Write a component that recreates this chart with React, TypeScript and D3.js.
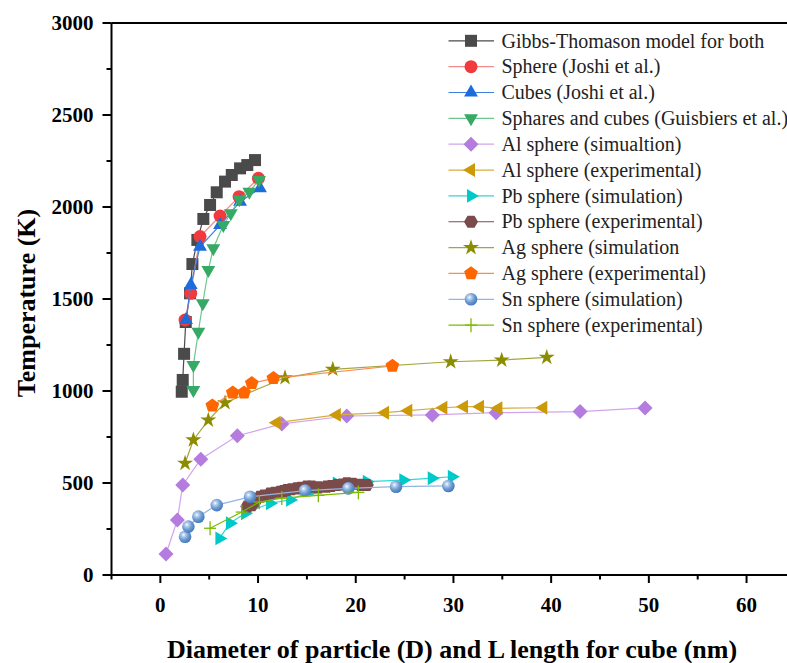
import React from "react";
import * as d3 from "d3";

const xTicks = [0, 10, 20, 30, 40, 50, 60];
const xMinorTicks = [-5, 5, 15, 25, 35, 45, 55, 65];
const yTicks = [0, 500, 1000, 1500, 2000, 2500, 3000];
const yMinorTicks = [250, 750, 1250, 1750, 2250, 2750];

const gibbs = [[2.19, 996], [2.29, 1060], [2.43, 1202], [2.6, 1375], [3.04, 1531], [3.28, 1690], [3.79, 1821], [4.4, 1935], [5.09, 2011], [5.77, 2080], [6.62, 2138], [7.31, 2174], [8.16, 2210], [8.9, 2228], [9.69, 2255]];
const sphereJoshi = [[2.53, 1386], [3.11, 1531], [4.06, 1839], [6.11, 1951], [8.06, 2056], [10.04, 2156]];
const cubesJoshi = [[2.63, 1386], [3.11, 1576], [4.06, 1784], [6.11, 1902], [8.16, 2029], [10.2, 2102]];
const guisbiers = [[3.38, 1005], [3.38, 1141], [3.89, 1322], [4.34, 1477], [4.91, 1658], [5.42, 1776], [6.45, 1902], [7.21, 1966], [8.09, 2042], [9.11, 2083], [10.1, 2147]];
const alSim = [[0.58, 114], [1.74, 299], [2.29, 489], [4.14, 629], [7.88, 757], [12.43, 821], [19.08, 864], [27.84, 870], [34.36, 882], [42.96, 888], [49.61, 908]];
const alExp = [[11.91, 828], [18.06, 870], [23.0, 882], [25.38, 893], [28.97, 909], [31.08, 915], [32.72, 915], [34.6, 906], [39.2, 909]];
const pbSim = [[6.04, 199], [7.13, 281], [8.67, 335], [11.23, 390], [13.28, 408], [15.66, 462], [18.06, 498], [21.13, 507], [24.87, 516], [27.78, 526], [29.83, 534]];
const pbExp = [[8.9, 372], [9.36, 380], [9.7, 400], [10.2, 425], [10.6, 432], [11.23, 443], [11.7, 447], [12.25, 452], [12.6, 456], [12.94, 462], [13.4, 466], [13.96, 471], [14.4, 474], [14.98, 480], [15.5, 480], [16.2, 476], [17.03, 480], [17.5, 484], [18.06, 489], [18.6, 492], [19.08, 498], [19.7, 496], [20.5, 490], [21.13, 489]];
const agSim = [[2.53, 607], [3.38, 734], [4.91, 842], [6.62, 936], [12.76, 1072], [17.65, 1118], [29.72, 1159], [34.94, 1168], [39.55, 1183]];
const agExp = [[5.32, 920], [7.41, 991], [8.57, 991], [9.36, 1042], [11.57, 1069], [23.75, 1136]];
const snSim = [[2.53, 208], [2.87, 263], [3.89, 317], [5.77, 380], [9.18, 425], [14.81, 459], [19.24, 471], [24.12, 480], [29.48, 484]];
const snExp = [[5.09, 254], [8.33, 342], [10.13, 397], [12.43, 418], [16.17, 433], [20.27, 449]];

const seriesNames = [
  "Gibbs-Thomason model for both",
  "Sphere (Joshi et al.)",
  "Cubes (Joshi et al.)",
  "Sphares and cubes (Guisbiers et al.)",
  "Al sphere (simualtion)",
  "Al sphere (experimental)",
  "Pb sphere (simulation)",
  "Pb sphere (experimental)",
  "Ag sphere (simulation",
  "Ag sphere (experimental)",
  "Sn sphere (simulation)",
  "Sn sphere (experimental)",
];

type Shape = "square" | "circle" | "up" | "down" | "diamond" | "left" | "right" | "hexagon" | "star" | "pentagon" | "sphere" | "plus";

const series: { name: string; data: number[][]; shape: Shape; fill: string; line: string }[] = [
  { name: seriesNames[0], data: gibbs, shape: "square", fill: "#4a4a4a", line: "#4a4a4a" },
  { name: seriesNames[1], data: sphereJoshi, shape: "circle", fill: "#f03a3e", line: "#f48a8a" },
  { name: seriesNames[2], data: cubesJoshi, shape: "up", fill: "#1c6cdc", line: "#3d7fe0" },
  { name: seriesNames[3], data: guisbiers, shape: "down", fill: "#36a964", line: "#6cc690" },
  { name: seriesNames[4], data: alSim, shape: "diamond", fill: "#b47cdf", line: "#cfa6ee" },
  { name: seriesNames[5], data: alExp, shape: "left", fill: "#cc9a06", line: "#d8ad3e" },
  { name: seriesNames[6], data: pbSim, shape: "right", fill: "#00c9c9", line: "#33d6d6" },
  { name: seriesNames[7], data: pbExp, shape: "hexagon", fill: "#7b4b4b", line: "#7b4b4b" },
  { name: seriesNames[8], data: agSim, shape: "star", fill: "#8c8c00", line: "#a5a540" },
  { name: seriesNames[9], data: agExp, shape: "pentagon", fill: "#ff6600", line: "#ff8a4d" },
  { name: seriesNames[10], data: snSim, shape: "sphere", fill: "url(#snGrad)", line: "#93b5e0" },
  { name: seriesNames[11], data: snExp, shape: "plus", fill: "#7cbb00", line: "#7cbb00" },
];

function polygon(n: number, r: number, rot: number) {
  const pts = d3.range(n).map((i) => {
    const a = rot + (i * 2 * Math.PI) / n;
    return [r * Math.cos(a), r * Math.sin(a)];
  });
  return "M" + pts.map((p) => p[0].toFixed(2) + "," + p[1].toFixed(2)).join("L") + "Z";
}

function Marker({ shape, fill, x, y }: { shape: Shape; fill: string; x: number; y: number }) {
  const t = `translate(${x},${y})`;
  switch (shape) {
    case "square":
      return <rect x={x - 6} y={y - 6} width={12} height={12} fill={fill} />;
    case "circle":
      return <circle cx={x} cy={y} r={6.5} fill={fill} />;
    case "sphere":
      return <circle cx={x} cy={y} r={6.3} fill={fill} />;
    case "up":
      return <path transform={t} d={polygon(3, 8, -Math.PI / 2)} fill={fill} />;
    case "down":
      return <path transform={t} d={polygon(3, 8, Math.PI / 2)} fill={fill} />;
    case "left":
      return <path transform={t} d={polygon(3, 8, Math.PI)} fill={fill} />;
    case "right":
      return <path transform={t} d={polygon(3, 8, 0)} fill={fill} />;
    case "diamond":
      return <path transform={t} d={polygon(4, 7.5, 0)} fill={fill} />;
    case "hexagon":
      return <path transform={t} d={polygon(6, 7, 0)} fill={fill} />;
    case "pentagon":
      return <path transform={t} d={polygon(5, 7.2, -Math.PI / 2)} fill={fill} />;
    case "star":
      return <path transform={t} d={d3.symbol(d3.symbolStar, 80)() || ""} fill={fill} />;
    case "plus":
      return (
        <g stroke={fill} strokeWidth={1.3}>
          <line x1={x - 6} x2={x + 6} y1={y} y2={y} />
          <line x1={x} x2={x} y1={y - 7} y2={y + 7} />
        </g>
      );
  }
  return null;
}

export default function App() {
  const W = 787;
  const H = 663;
  const x = d3.scaleLinear().domain([-5, 65]).range([111.5, 795.4]);
  const y = d3.scaleLinear().domain([0, 3000]).range([575, 23]);
  const line = d3
    .line<number[]>()
    .x((d) => x(d[0]))
    .y((d) => y(d[1]));
  const left = x(-5);
  const bottom = y(0);
  const top = y(3000);
  const font = "'Liberation Serif', 'Times New Roman', serif";

  return (
    <svg width={W} height={H} style={{ position: "absolute", left: 0, top: 0, background: "#fff" }} fontFamily={font}>
      <defs>
        <radialGradient id="snGrad" cx="0.38" cy="0.35" r="0.7">
          <stop offset="0" stopColor="#ffffff" />
          <stop offset="0.2" stopColor="#b8d0ee" />
          <stop offset="0.55" stopColor="#6d9dd3" />
          <stop offset="1" stopColor="#3f73b5" />
        </radialGradient>
      </defs>
      <rect width={W} height={H} fill="#fff" />

      {/* series */}
      {series.map((s, i) => (
        <g key={i}>
          <path d={line(s.data) || ""} fill="none" stroke={s.line} strokeWidth={1.2} />
          {s.data.map((d, j) => (
            <Marker key={j} shape={s.shape} fill={s.fill} x={x(d[0])} y={y(d[1])} />
          ))}
        </g>
      ))}

      {/* axes */}
      <g stroke="#000" strokeWidth={2}>
        <line x1={left} x2={W + 5} y1={bottom} y2={bottom} />
        <line x1={left} x2={left} y1={top} y2={bottom + 1} />
        <line x1={left} x2={W + 5} y1={top} y2={top} />
        {xTicks.map((t) => (
          <line key={"xt" + t} x1={x(t)} x2={x(t)} y1={bottom} y2={bottom + 8} />
        ))}
        {xMinorTicks.map((t) => (
          <line key={"xm" + t} x1={x(t)} x2={x(t)} y1={bottom} y2={bottom + 4.5} />
        ))}
        {yTicks.map((t) => (
          <line key={"yt" + t} x1={left - 9} x2={left} y1={y(t)} y2={y(t)} />
        ))}
        {yMinorTicks.map((t) => (
          <line key={"ym" + t} x1={left - 5} x2={left} y1={y(t)} y2={y(t)} />
        ))}
      </g>
      <g fontWeight="bold" fontSize={21} fill="#000">
        {xTicks.map((t) => (
          <text key={"xl" + t} x={x(t)} y={611.5} textAnchor="middle">
            {t}
          </text>
        ))}
        {yTicks.map((t) => (
          <text key={"yl" + t} x={93.5} y={y(t) + 7} textAnchor="end">
            {t}
          </text>
        ))}
      </g>
      <text x={452} y={658} textAnchor="middle" fontWeight="bold" fontSize={26}>
        Diameter of particle (D) and L length for cube (nm)
      </text>
      <text transform={`translate(35,303) rotate(-90)`} textAnchor="middle" fontWeight="bold" fontSize={26}>
        Temperature (K)
      </text>

      {/* legend */}
      {series.map((s, i) => {
        const ly = 40.8 + i * 25.85;
        return (
          <g key={"lg" + i}>
            <line x1={448.5} x2={494} y1={ly} y2={ly} stroke={s.line} strokeWidth={1.2} />
            <Marker shape={s.shape} fill={s.fill} x={471} y={ly} />
            <text x={501.5} y={ly + 6.7} fontSize={20} fill="#222">
              {s.name}
            </text>
          </g>
        );
      })}
    </svg>
  );
}
